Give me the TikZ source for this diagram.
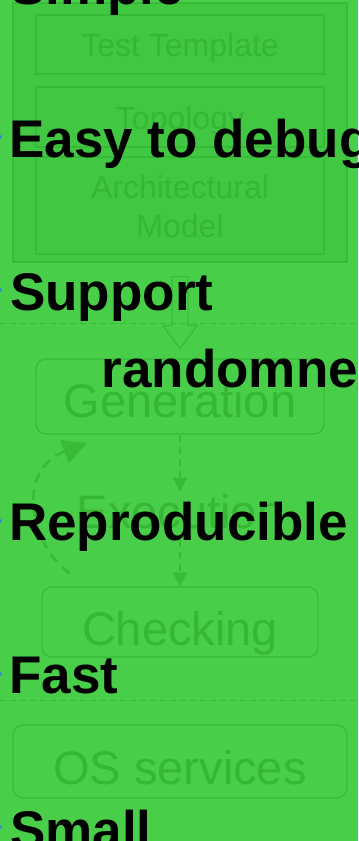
\documentclass[tikz,border=0pt]{standalone}
\usepackage{fontspec}
\setmainfont{Liberation Sans}
\usetikzlibrary{arrows.meta,calc}

\definecolor{bggreen}{RGB}{72,206,72}
\definecolor{boxfill}{RGB}{66,199,66}
\definecolor{ghost}{RGB}{57,187,57}
\definecolor{ghosttext}{RGB}{54,183,54}
\definecolor{bulletblue}{RGB}{60,140,205}

\tikzset{
  ghostbox/.style={draw=ghost, line width=1.2bp, inner sep=0pt},
  ghostsmall/.style={anchor=base, inner sep=0pt, text=ghosttext,
    font=\fontsize{32bp}{39bp}\selectfont},
  ghostbig/.style={anchor=base, inner sep=0pt, text=ghosttext,
    font=\fontsize{47bp}{55bp}\selectfont},
  overlay/.style={anchor=base west, inner sep=0pt, text=black,
    font=\fontsize{53bp}{60bp}\selectfont\bfseries},
  flowarrow/.style={draw=ghost, line width=2bp, dash pattern=on 7bp off 5bp,
    -{Triangle[length=14bp,width=14bp]}},
  looparrow/.style={draw=ghost, line width=2.6bp, dash pattern=on 10bp off 7bp,
    -{Triangle[length=24bp,width=24bp]}},
  separator/.style={draw=ghost, line width=1bp, dash pattern=on 6bp off 4bp},
}

\begin{document}
\begin{tikzpicture}[x=1bp, y=-1bp]
  \useasboundingbox (0,0) rectangle (358,841);
  \clip (0,0) rectangle (358,841);
  \fill[bggreen] (0,0) rectangle (358,841);

  % model stack
  \node[ghostbox, fill=boxfill, minimum width=334bp, minimum height=259bp] (outer) at (180,132.5) {};
  \node[ghostbox, minimum width=288bp, minimum height=59bp] (tt) at (180,44.5) {};
  \node[ghostsmall] (ttl) at (180,56) {Test Template};
  \node[ghostbox, minimum width=288bp, minimum height=60bp] (topo) at (180,117) {};
  \node[ghostsmall] (topol) at (180,129) {Topology};
  \node[ghostbox, minimum width=288bp, minimum height=97bp] (arch) at (180,205.5) {};
  \node[ghostsmall] (archl1) at (180,198) {Architectural};
  \node[ghostsmall] (archl2) at (180,237) {Model};

  % hollow arrow from the model stack down to generation
  \draw[draw=ghost, line width=1.2bp, shift={(outer.south)}]
    (-8,14) -- (8,14) -- (8,63) -- (17,63) -- (0,86) -- (-17,63) -- (-8,63) -- cycle;

  % layer separators
  \draw[separator] (0,323) -- (358,323);
  \draw[separator] (0,700) -- (358,700);

  % generation / execution / checking loop
  \node[ghostbox, rounded corners=10bp, minimum width=288bp, minimum height=75bp] (gen) at (180,396.5) {};
  \node[ghostbig] (genl) at (180,417) {Generation};
  \node[anchor=base, inner sep=0pt, text=ghosttext, font=\fontsize{47bp}{55bp}\selectfont,
        text height=36bp, text depth=12bp] (exec) at (180,528) {Execution};
  \node[ghostbox, rounded corners=10bp, minimum width=276bp, minimum height=70bp] (check) at (180,622) {};
  \node[ghostbig] (checkl) at (180,645) {Checking};

  \draw[flowarrow] (gen.south) -- (exec.north);
  \draw[flowarrow] (exec.south) -- (check.north);
  \draw[looparrow] (exec.south west) ++(-7,33) .. controls (30,545) and (15,470) .. (87,443);

  % operating system layer
  \node[ghostbox, rounded corners=10bp, minimum width=334bp, minimum height=73bp] (os) at (180,761.5) {};
  \node[ghostbig] (osl) at (180,784) {OS services};

  % bullet list on top
  \node[overlay] (simple) at (10,4) {Simple};
  \node[overlay] (easy) at (9,157) {Easy to debug};
  \node[overlay] (support) at (10,310) {Support};
  \node[overlay] (random) at (101.5,387) {randomness};
  \node[overlay] (repro) at (9,540) {Reproducible};
  \node[overlay] (fast) at (9,693) {Fast};
  \node[overlay] (small) at (10,848) {Small};

  \foreach \y in {137,290,521,674,827}
    \fill[bulletblue] (0,\y) circle (2bp);
\end{tikzpicture}
\end{document}
